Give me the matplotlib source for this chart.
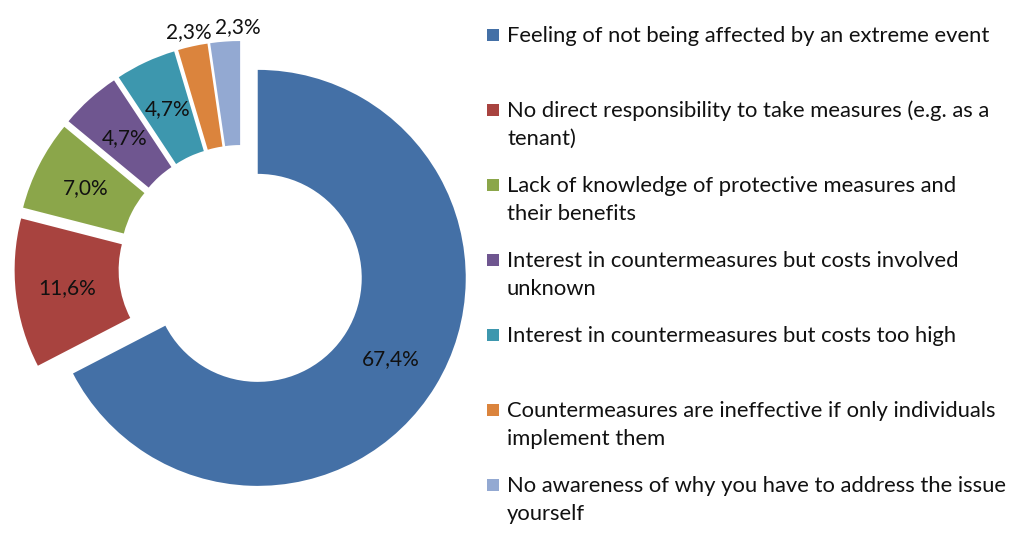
import matplotlib
matplotlib.use("Agg")
import matplotlib.pyplot as plt
from matplotlib.patches import Rectangle
import math

categories = [
    "Feeling of not being affected by an extreme event",
    "No direct responsibility to take measures (e.g. as a\ntenant)",
    "Lack of knowledge of protective measures and\ntheir benefits",
    "Interest in countermeasures but costs involved\nunknown",
    "Interest in countermeasures but costs too high",
    "Countermeasures are ineffective if only individuals\nimplement them",
    "No awareness of why you have to address the issue\nyourself",
]
values = [67.4, 11.6, 7.0, 4.7, 4.7, 2.3, 2.3]
colors = ["#4470A6", "#A8433F", "#8BA64A", "#6F5690", "#3D97AE", "#DB843D", "#93A9D2"]

W, H = 1009, 550
FONT = "Lato"
fig = plt.figure(figsize=(W / 100, H / 100), dpi=100)
ax = fig.add_axes([0, 0, 1, 1])

R = 208
cx, cy = 241.5, H - 268
expl = 19
wedges, _ = ax.pie(values, startangle=90, counterclock=False, radius=R,
                   center=(cx, cy), explode=[expl] * len(values),
                   colors=colors, wedgeprops=dict(width=R * 0.5, linewidth=0),
                   frame=True)
ax.set_xlim(0, W)
ax.set_ylim(0, H)
ax.set_aspect("equal")
ax.axis("off")

for i, (w, v) in enumerate(zip(wedges, values)):
    tm = math.radians(0.5 * (w.theta1 + w.theta2))
    x0, y0 = w.center
    txt = f"{v:.1f}".replace(".", ",") + "%"
    if v > 3:
        d = 0.75 * R
        ax.text(x0 + d * math.cos(tm), y0 + d * math.sin(tm), txt,
                ha="center", va="center", fontsize=15, family=FONT, color="#111111")
    else:
        d = 1.08 * R
        shift = 14 if i == len(values) - 1 else 0
        ax.text(x0 + d * math.cos(tm) + shift, y0 + d * math.sin(tm) - 2, txt,
                ha="center", va="center", fontsize=15, family=FONT, color="#111111")

# legend
base0 = 41.7
step = 75
lsp = 28
for i, (lab, col) in enumerate(zip(categories, colors)):
    b = base0 + i * step
    ax.add_patch(Rectangle((487, H - (b - 1)), 12, 12, facecolor=col, edgecolor="none"))
    for j, line in enumerate(lab.split("\n")):
        ax.text(507, H - (b + j * lsp), line, ha="left", va="baseline",
                fontsize=15.8, family=FONT, color="#111111")

fig.savefig("out.png", dpi=100)
